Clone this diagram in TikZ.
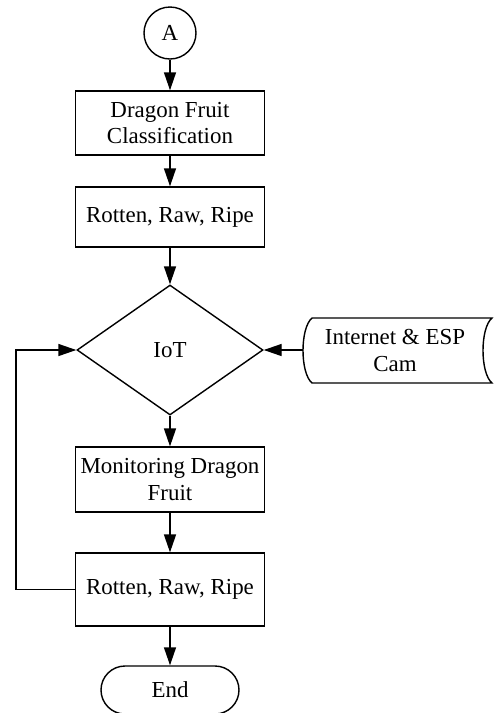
\documentclass[tikz,border=0pt]{standalone}
\usepackage{fontspec}
\setmainfont{Liberation Serif}
\usetikzlibrary{shapes.geometric, arrows.meta}

\begin{document}
\begin{tikzpicture}[align=center, font=\fontsize{16.3}{19}\selectfont, line width=1pt,
  box/.style={draw, minimum width=4.725cm, inner sep=2pt},
  arr/.style={-{Triangle[length=0.45cm, width=0.3cm]}}]

\useasboundingbox (0,0) rectangle (12.35,-17.825);

% Start
\node[draw, circle, minimum size=1.3cm, inner sep=0pt] (conA) at (4.25,-0.825) {A};

% Classification
\node[box, minimum height=1.6cm] (classify) at (4.25,-3.075) {Dragon Fruit\\Classification};
\node[box, minimum height=1.5cm] (result) at (4.25,-5.425) {Rotten, Raw, Ripe};

% IoT
\node[draw, diamond, minimum width=4.65cm, minimum height=3.25cm, inner sep=0pt] (iot) at (4.25,-8.75) {IoT};

% Internet & ESP Cam
\draw (7.8,-7.95) -- (12.3,-7.95) .. controls (12.0,-8.2) and (12.0,-9.325) .. (12.3,-9.575)
  -- (7.8,-9.575) .. controls (7.5,-9.325) and (7.5,-8.2) .. cycle;
\node (cam) at (9.875,-8.76) {Internet \& ESP\\Cam};
\coordinate (camin) at (7.575,-8.75);

% Monitoring
\node[box, minimum height=1.625cm] (monitor) at (4.25,-11.99) {Monitoring Dragon\\Fruit};
\node[box, minimum height=1.825cm] (status) at (4.25,-14.74) {Rotten, Raw, Ripe};

% End
\node[draw, rounded corners=0.6cm, minimum width=3.45cm, minimum height=1.2cm] (finish) at (4.25,-17.25) {End};

% Arrows
\coordinate (loop) at (0.4,-14.74);
\draw[arr] (conA) -- (classify);
\draw[arr] (classify) -- (result);
\draw[arr] (result) -- (iot);
\draw[arr] (iot) -- (monitor);
\draw[arr] (monitor) -- (status);
\draw[arr] (status) -- (finish);
\draw[arr] (camin) -- (iot.east);
\draw[arr] (status.west) -- (loop) |- (iot.west);

\end{tikzpicture}
\end{document}
